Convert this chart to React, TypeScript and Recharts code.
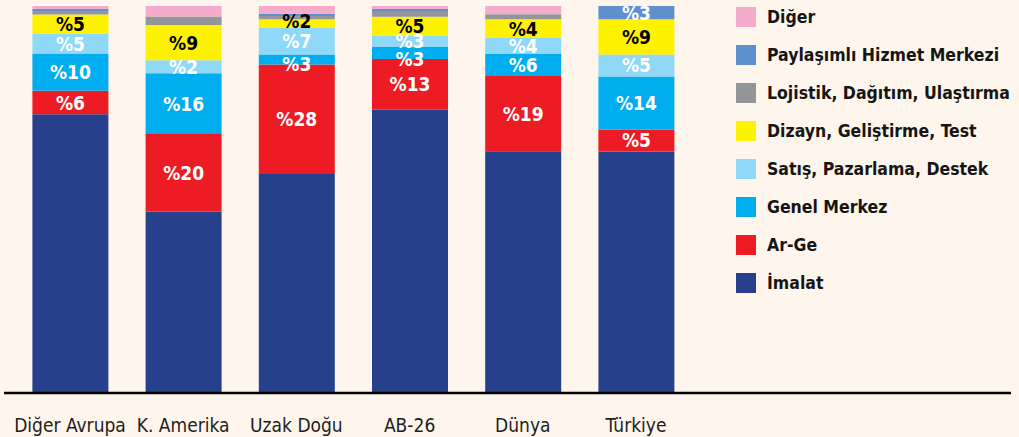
import React from "react";
import { BarChart, Bar, XAxis, YAxis, Legend, LabelList } from "recharts";

const categories = ["Diğer Avrupa", "K. Amerika", "Uzak Doğu", "AB-26", "Dünya", "Türkiye"];

const imalat = [72.0, 46.9, 56.6, 73.2, 62.5, 62.4];
const arge = [6.1, 20.0, 28.3, 13.1, 19.4, 5.7];
const genelMerkez = [9.6, 15.7, 2.6, 3.1, 5.7, 13.7];
const satis = [5.1, 3.4, 6.9, 2.9, 4.1, 5.7];
const dizayn = [5.0, 9.1, 2.2, 4.9, 4.9, 9.1];
const lojistik = [0.9, 2.2, 0.8, 1.5, 1.3, 0];
const paylasimli = [0.6, 0, 0.6, 0.5, 0, 3.4];
const diger = [0.7, 2.7, 2.0, 0.8, 2.1, 0];

const argeLabels = ["%6", "%20", "%28", "%13", "%19", "%5"];
const genelLabels = ["%10", "%16", "%3", "%3", "%6", "%14"];
const satisLabels = ["%5", "%2", "%7", "%3", "%4", "%5"];
const dizaynLabels = ["%5", "%9", "%2", "%5", "%4", "%9"];
const paylasimliLabels = ["", "", "", "", "", "%3"];

const legendOrder = [
  "Diğer",
  "Paylaşımlı Hizmet Merkezi",
  "Lojistik, Dağıtım, Ulaştırma",
  "Dizayn, Geliştirme, Test",
  "Satış, Pazarlama, Destek",
  "Genel Merkez",
  "Ar-Ge",
  "İmalat",
];

const data = categories.map((name, i) => ({
  name,
  imalat: imalat[i],
  arge: arge[i],
  genel: genelMerkez[i],
  satis: satis[i],
  dizayn: dizayn[i],
  lojistik: lojistik[i],
  paylasimli: paylasimli[i],
  diger: diger[i],
  argeL: argeLabels[i],
  genelL: genelLabels[i],
  satisL: satisLabels[i],
  dizaynL: dizaynLabels[i],
  paylasimliL: paylasimliLabels[i],
}));

const FONT = "'DejaVu Sans Condensed', 'DejaVu Sans', sans-serif";

const makeLabel = (color: string, smallMode: "center" | "bottom" | "up" = "center") => (props: any) => {
  const { x, y, width, height, value } = props;
  if (!value) return null;
  const h = Number(height);
  let cy = Number(y) + h / 2;
  if (h < 16) {
    if (smallMode === "bottom") cy = Number(y) + h;
    else if (smallMode === "up") cy = Number(y) + h / 2 - 2;
  }
  return (
    <text
      x={Number(x) + Number(width) / 2}
      y={cy}
      textAnchor="middle"
      dominantBaseline="central"
      fill={color}
      fontFamily={FONT}
      fontWeight="bold"
      fontSize={19}
    >
      {value}
    </text>
  );
};

const Tick = (props: any) => {
  const { x, y, payload } = props;
  return (
    <text x={x} y={y + 37} textAnchor="middle" fill="#1e1e1e" fontFamily={FONT} fontSize={19}>
      {payload.value}
    </text>
  );
};

const LegendContent = (props: any) => {
  const items = [...(props.payload || [])].sort(
    (a: any, b: any) => legendOrder.indexOf(a.value) - legendOrder.indexOf(b.value)
  );
  return (
    <div style={{ fontFamily: FONT }}>
      {items.map((it: any) => (
        <div key={it.value} style={{ display: "flex", alignItems: "center", height: 38 }}>
          <div style={{ width: 20, height: 20, background: it.color, marginRight: 11 }} />
          <span style={{ fontSize: 17.5, fontWeight: "bold", color: "#151515", whiteSpace: "nowrap" }}>{it.value}</span>
        </div>
      ))}
    </div>
  );
};

export default function App() {
  return (
    <div style={{ position: "absolute", left: 0, top: 0, width: 1019, height: 437, background: "#FEF5EC" }}>
      <BarChart width={1019} height={437} data={data} margin={{ top: 6, right: 8, bottom: 0, left: 4 }} barSize={76}>
        <XAxis
          dataKey="name"
          height={44}
          tickLine={false}
          tickSize={0}
          tick={<Tick />}
          axisLine={{ stroke: "#000", strokeWidth: 2.5 }}
          padding={{ left: 9.4, right: 318.4 }}
          interval={0}
        />
        <YAxis hide domain={[0, 100]} />
        <Legend
          layout="horizontal"
          verticalAlign="middle"
          align="center"
          content={<LegendContent />}
          wrapperStyle={{ position: "absolute", left: 736, top: -2, width: 283 }}
        />
        <Bar dataKey="imalat" name="İmalat" stackId="a" fill="#26408B" isAnimationActive={false} />
        <Bar dataKey="arge" name="Ar-Ge" stackId="a" fill="#ED1C24" isAnimationActive={false}>
          <LabelList dataKey="argeL" content={makeLabel("#fff")} />
        </Bar>
        <Bar dataKey="genel" name="Genel Merkez" stackId="a" fill="#00AEEF" isAnimationActive={false}>
          <LabelList dataKey="genelL" content={makeLabel("#fff", "bottom")} />
        </Bar>
        <Bar dataKey="satis" name="Satış, Pazarlama, Destek" stackId="a" fill="#8FD8F7" isAnimationActive={false}>
          <LabelList dataKey="satisL" content={makeLabel("#fff")} />
        </Bar>
        <Bar dataKey="dizayn" name="Dizayn, Geliştirme, Test" stackId="a" fill="#FFF200" isAnimationActive={false}>
          <LabelList dataKey="dizaynL" content={makeLabel("#000", "up")} />
        </Bar>
        <Bar dataKey="lojistik" name="Lojistik, Dağıtım, Ulaştırma" stackId="a" fill="#939598" isAnimationActive={false} />
        <Bar dataKey="paylasimli" name="Paylaşımlı Hizmet Merkezi" stackId="a" fill="#6090CB" isAnimationActive={false}>
          <LabelList dataKey="paylasimliL" content={makeLabel("#fff")} />
        </Bar>
        <Bar dataKey="diger" name="Diğer" stackId="a" fill="#F4ABCC" isAnimationActive={false} />
      </BarChart>
    </div>
  );
}
